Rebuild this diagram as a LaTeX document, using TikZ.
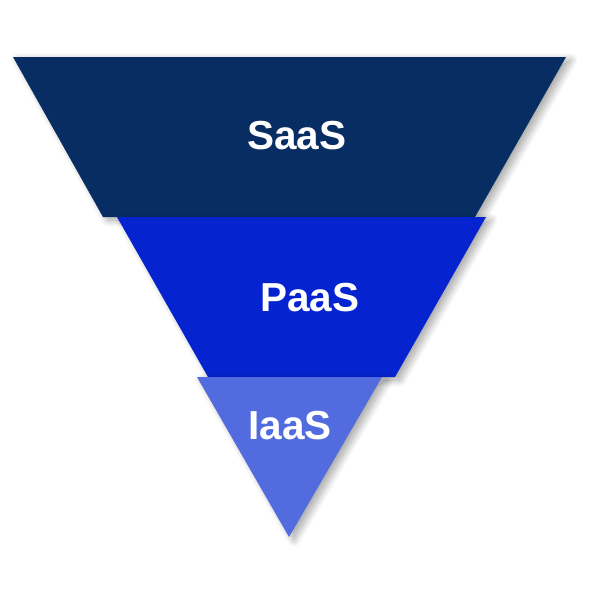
\documentclass[tikz,border=0pt]{standalone}
\usepackage{fontspec}
\setmainfont{Liberation Sans}
\usepackage{tikz}
\usetikzlibrary{shadows.blur}
\definecolor{saasnavy}{RGB}{8,45,98}
\definecolor{paasblue}{RGB}{6,35,208}
\definecolor{iaaslight}{RGB}{82,108,224}
\tikzset{
  layer/.style={blur shadow={shadow xshift=5pt, shadow yshift=-3pt,
      shadow blur steps=14, shadow blur radius=7pt, shadow opacity=35}},
  layerlabel/.style={text=white, font=\fontsize{40.5}{44}\selectfont\bfseries, inner sep=0pt}
}
\begin{document}
\begin{tikzpicture}[x=1pt, y=-1pt]
  \useasboundingbox (0,0) rectangle (595,595);

  % SaaS
  \fill[saasnavy, layer] (13,57) -- (566,57) -- (475,217) -- (103,217) -- cycle;
  \node[layerlabel] (saas) at (297,136) {SaaS};

  % PaaS
  \fill[paasblue, layer] (117,217) -- (486,217) -- (395,377) -- (208,377) -- cycle;
  \node[layerlabel] (paas) at (310,298) {PaaS};

  % IaaS
  \fill[iaaslight, layer] (197,377) -- (382,377) -- (289,537) -- cycle;
  \node[layerlabel] (iaas) at (290,426) {IaaS};
\end{tikzpicture}
\end{document}
